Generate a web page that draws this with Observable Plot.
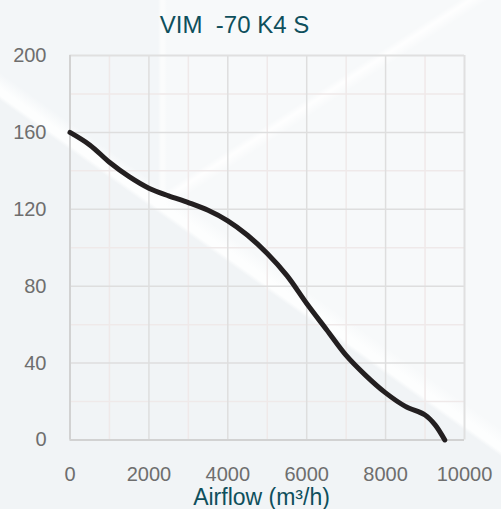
<!DOCTYPE html>
<html>
<head>
<meta charset="utf-8">
<script src="https://cdn.jsdelivr.net/npm/d3@7"></script>
<script src="https://cdn.jsdelivr.net/npm/@observablehq/plot@0.6"></script>
<style>
  html, body { margin: 0; padding: 0; }
  body { width: 501px; height: 509px; overflow: hidden; }
  #chart {
    width: 501px; height: 509px; position: relative;
    background:
      linear-gradient(35.4deg, #f1f4f6 0px, #f1f4f6 333px, #fdfefe 337px, #fdfefe 343px, rgba(247,249,250,0) 356px),
      linear-gradient(147deg, rgba(255,255,255,0) 250px, rgba(255,255,255,0.9) 256px, rgba(255,255,255,0) 266px),
      linear-gradient(90deg, #f3f6f8 0px, #f3f6f8 158px, #fbfcfc 161px, #fbfcfc 164px, #f7f9fa 167px);
  }
  #chart svg { position: absolute; left: 0; top: 0; }
</style>
</head>
<body>
<div id="chart"></div>
<script>
const titleText = "VIM  -70 K4 S";
const xLabel = "Airflow (m³/h)";

const airflow  = [0, 500, 1000, 1500, 2000, 2500, 3000, 3500, 4000, 4500, 5000, 5500, 6000, 6500, 7000, 7500, 8000, 8500, 9000, 9250, 9500];
const pressure = [160, 153.5, 144.5, 137, 131, 127, 123.5, 119.5, 114, 106.5, 97, 85.5, 71, 57.5, 44, 33.5, 24.5, 17.5, 13, 8, 0];

const xTicks = [0, 2000, 4000, 6000, 8000, 10000];
const xMinor = [1000, 3000, 5000, 7000, 9000];
const yTicks = [0, 40, 80, 120, 160, 200];
const yMinor = [20, 60, 100, 140, 180];

const data = airflow.map((a, i) => ({airflow: a, pressure: pressure[i]}));

const chart = Plot.plot({
  width: 501,
  height: 509,
  marginLeft: 69.5,
  marginRight: 37,
  marginTop: 55,
  marginBottom: 69.5,
  style: {background: "transparent", fontFamily: "'Liberation Sans', Arial, sans-serif", fontSize: "20px", color: "#6e6e6e", overflow: "visible"},
  x: {domain: [0, 10000]},
  y: {domain: [0, 200]},
  marks: [
    Plot.ruleX(xMinor, {stroke: "#efe9e9", strokeWidth: 1.5}),
    Plot.ruleY(yMinor, {stroke: "#efe9e9", strokeWidth: 1.5}),
    Plot.ruleX(xTicks.slice(1, -1), {stroke: "#dedede", strokeWidth: 1.5}),
    Plot.ruleY(yTicks.slice(1, -1), {stroke: "#dedede", strokeWidth: 1.5}),
    Plot.ruleY([200], {stroke: "#e0e0e0", strokeWidth: 2}),
    Plot.ruleX([10000], {stroke: "#e0e0e0", strokeWidth: 2}),
    Plot.ruleX([0], {stroke: "#d2d2d2", strokeWidth: 2}),
    Plot.ruleY([0], {stroke: "#d2d2d2", strokeWidth: 2}),
    Plot.axisX({ticks: xTicks, tickSize: 0, tickPadding: 27, label: null, fill: "#6e6e6e", tickFormat: d => String(d)}),
    Plot.axisY({ticks: yTicks, tickSize: 0, tickPadding: 23.5, label: null, fill: "#6e6e6e", tickFormat: d => String(d)}),
    Plot.line(data, {x: "airflow", y: "pressure", stroke: "#231f20", strokeWidth: 5, curve: "catmull-rom"}),
    Plot.text([titleText], {frameAnchor: "top", lineAnchor: "middle", dx: -32.75, dy: -30, fontSize: 24, fill: "#0e4f5c"}),
    Plot.text([xLabel], {frameAnchor: "bottom", lineAnchor: "middle", dx: -5.75, dy: 58, fontSize: 23, fill: "#0e4f5c"})
  ]
});
chart.querySelectorAll("text").forEach(t => t.setAttribute("xml:space", "preserve"));
document.getElementById("chart").appendChild(chart);
</script>
</body>
</html>
